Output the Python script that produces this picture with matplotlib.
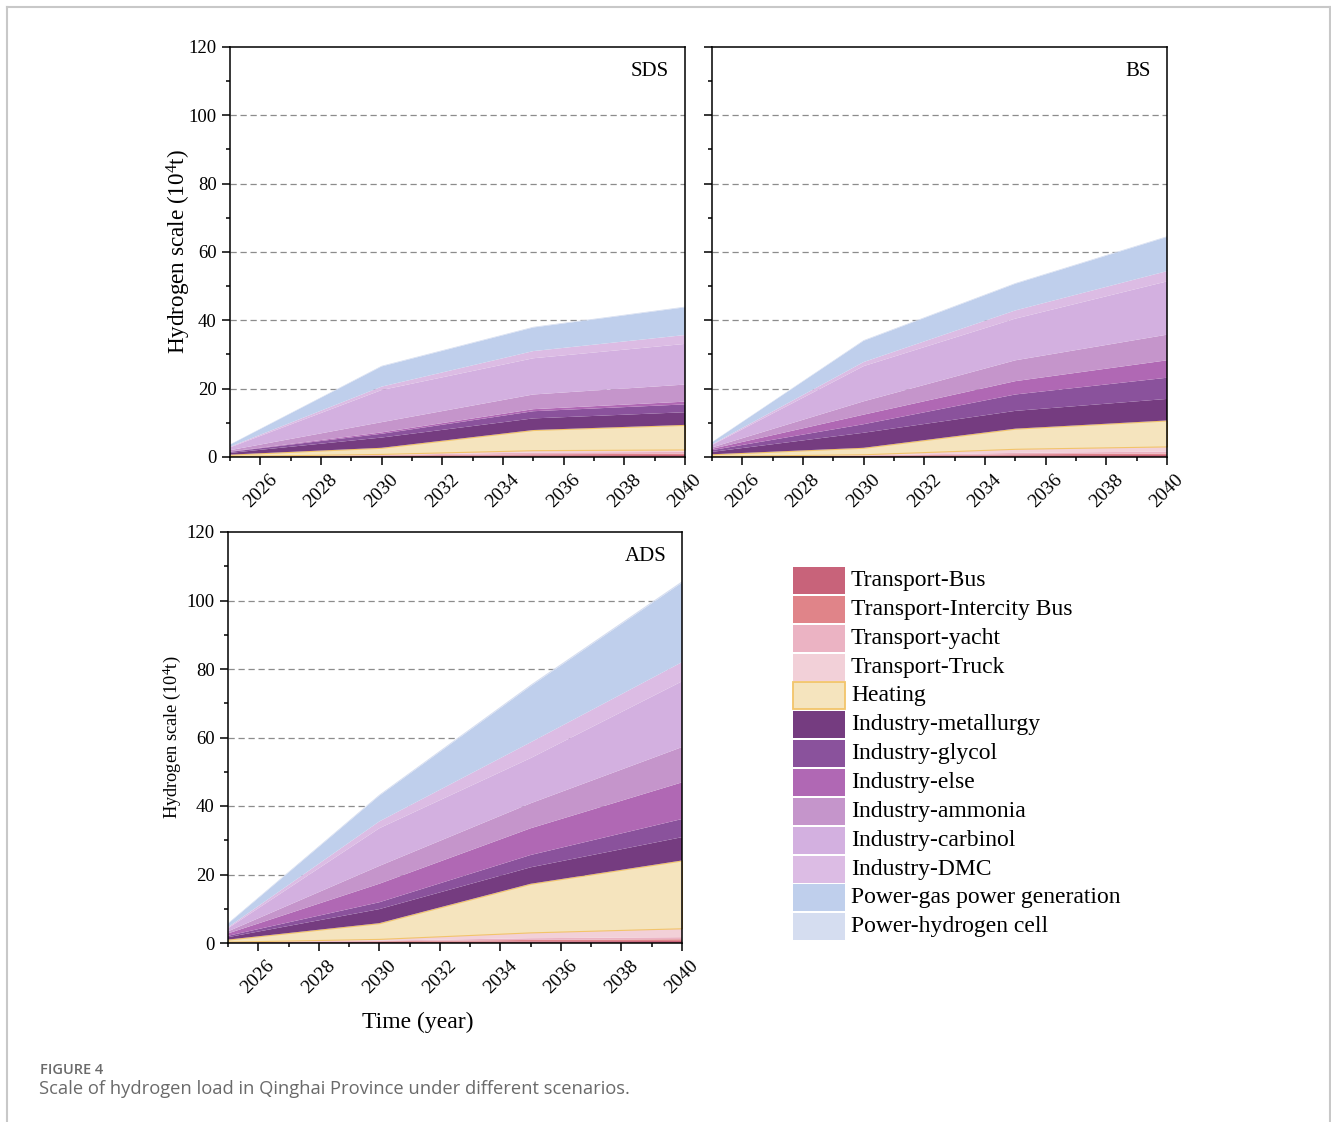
import matplotlib
matplotlib.use("Agg")
import matplotlib.pyplot as plt
from matplotlib.patches import Rectangle
from matplotlib.lines import Line2D
from matplotlib.ticker import MultipleLocator

plt.rcParams['font.family'] = ['Liberation Serif', 'DejaVu Serif']
plt.rcParams['mathtext.fontset'] = 'custom'
plt.rcParams['mathtext.rm'] = 'Liberation Serif'

# ---- data (10^4 t) ----
years = [2025, 2030, 2035, 2040]

categories = [
    "Transport-Bus", "Transport-Intercity Bus", "Transport-yacht", "Transport-Truck",
    "Heating", "Industry-metallurgy", "Industry-glycol", "Industry-else",
    "Industry-ammonia", "Industry-carbinol", "Industry-DMC",
    "Power-gas power generation", "Power-hydrogen cell",
]

colors = [
    "#C8637A", "#E08489", "#EBB3C3", "#F2D0D8",
    "#F5E4BE", "#753C80", "#8A529C", "#B068B4",
    "#C595CB", "#D3B0E0", "#DCBCE4",
    "#BFCFEC", "#D5DDF0",
]

# one row per category, in the order of `categories`
sds = [
    [0.10, 0.30, 0.50, 0.60],
    [0.05, 0.15, 0.30, 0.35],
    [0.05, 0.15, 0.50, 0.55],
    [0.10, 0.30, 0.70, 0.70],
    [0.40, 1.80, 5.90, 7.20],
    [0.50, 3.00, 3.40, 3.70],
    [0.30, 1.10, 2.10, 2.30],
    [0.10, 0.40, 0.60, 0.80],
    [0.40, 3.00, 4.30, 5.00],
    [0.80, 9.40, 10.6, 11.9],
    [0.20, 1.00, 2.10, 2.60],
    [0.60, 5.90, 6.90, 8.10],
    [0.10, 0.20, 0.20, 0.20],
]

bs = [
    [0.10, 0.30, 0.50, 0.60],
    [0.05, 0.10, 0.30, 0.40],
    [0.05, 0.10, 0.40, 0.60],
    [0.10, 0.30, 1.20, 1.50],
    [0.50, 1.90, 5.90, 7.60],
    [0.70, 4.40, 5.20, 6.30],
    [0.50, 2.50, 4.80, 6.20],
    [0.40, 2.80, 3.90, 5.10],
    [0.40, 3.90, 6.10, 7.50],
    [0.70, 10.3, 12.2, 15.6],
    [0.20, 1.20, 2.40, 3.00],
    [0.60, 6.20, 7.80, 10.0],
    [0.10, 0.20, 0.20, 0.20],
]

ads = [
    [0.10, 0.30, 0.50, 0.60],
    [0.10, 0.20, 0.40, 0.50],
    [0.10, 0.20, 0.50, 0.60],
    [0.10, 0.50, 1.70, 2.60],
    [0.60, 4.60, 14.2, 19.8],
    [0.70, 4.10, 4.80, 6.80],
    [0.40, 2.00, 3.60, 5.30],
    [0.70, 5.40, 7.80, 10.7],
    [0.60, 5.20, 7.30, 10.3],
    [0.90, 11.0, 13.2, 19.2],
    [0.30, 2.00, 4.60, 5.60],
    [1.00, 7.50, 16.4, 23.2],
    [0.20, 0.30, 0.40, 0.40],
]

scenario_names = ["SDS", "BS", "ADS"]
xticks = [2026, 2028, 2030, 2032, 2034, 2036, 2038, 2040]

W, H = 1331, 1122
fig = plt.figure(figsize=(W / 100, H / 100), dpi=100)


def axes_px(left, top, right, bottom):
    return fig.add_axes([left / W, 1 - bottom / H, (right - left) / W, (bottom - top) / H])


def draw_panel(ax, values, name, ylabel_size, ylabel_pad):
    polys = ax.stackplot(years, *values, colors=colors, linewidth=0, zorder=2)
    polys[4].set_edgecolor("#F2C46A")
    polys[4].set_linewidth(0.8)
    ax.set_xlim(2025, 2040)
    ax.set_ylim(0, 120)
    ax.set_xticks(xticks)
    ax.set_xticklabels([str(y) for y in xticks], rotation=45, ha="center", fontsize=14)
    ax.xaxis.set_minor_locator(MultipleLocator(1))
    ax.yaxis.set_major_locator(MultipleLocator(20))
    ax.yaxis.set_minor_locator(MultipleLocator(10))
    ax.tick_params(axis="both", which="major", direction="out", length=6, width=1.1,
                   labelsize=13.5, top=False, right=False)
    ax.tick_params(axis="x", which="major", labelsize=14, pad=4)
    ax.tick_params(axis="both", which="minor", direction="out", length=3, width=1.1,
                   top=False, right=False)
    for sp in ax.spines.values():
        sp.set_linewidth(1.1)
    for gy in [20, 40, 60, 80, 100]:
        ax.axhline(gy, color="#8c8c8c", lw=0.9, ls=(0, (5, 3)), zorder=1)
    ax.text(0.965, 0.94, name, transform=ax.transAxes, ha="right", va="center", fontsize=15)
    ax.set_ylabel(r"Hydrogen scale (10$\mathregular{^4}$t)", fontsize=ylabel_size,
                  labelpad=ylabel_pad)


ax1 = axes_px(230, 47, 685, 457)
draw_panel(ax1, sds, scenario_names[0], 16.7, -3)

ax2 = axes_px(712, 47, 1167, 457)
draw_panel(ax2, bs, scenario_names[1], 16.7, -3)
ax2.set_ylabel("")
ax2.set_yticklabels([])

ax3 = axes_px(228, 532, 682, 943)
draw_panel(ax3, ads, scenario_names[2], 13.2, 3)
fig.text(418 / W, 1 - 1022 / H, "Time (year)", fontsize=17, ha="center", va="center")

# legend, drawn as a column of swatches with labels
row_top0, row_step, sw_h = 567, 28.85, 27
for i, (c, lab) in enumerate(zip(colors, categories)):
    top = row_top0 + i * row_step
    if lab == "Heating":
        ec, lw = "#F2C46A", 1.3
    else:
        ec, lw = "none", 0
    fig.add_artist(Rectangle((793 / W, 1 - (top + sw_h) / H), 52 / W, sw_h / H,
                             transform=fig.transFigure, facecolor=c, edgecolor=ec, linewidth=lw))
    fig.text(851 / W, 1 - (top + sw_h / 2) / H, lab, fontsize=17, ha="left", va="center")

# page frame and caption
frame_col = "#c8c8c8"
fig.add_artist(Line2D([7 / W, 1330 / W], [1 - 7 / H, 1 - 7 / H], color=frame_col, lw=1.5))
fig.add_artist(Line2D([7 / W, 7 / W], [0, 1 - 7 / H], color=frame_col, lw=1.5))
fig.add_artist(Line2D([1330 / W, 1330 / W], [0, 1 - 7 / H], color=frame_col, lw=1.5))

fig.text(40 / W, 1 - 1070 / H, "FIGURE 4", fontsize=10.5, color="#6a6a6a",
         family=["Open Sans", "DejaVu Sans"], fontweight="semibold", va="center")
fig.text(39 / W, 1 - 1089 / H, "Scale of hydrogen load in Qinghai Province under different scenarios.",
         fontsize=13.2, color="#6a6a6a", family=["Open Sans", "DejaVu Sans"], va="center")

fig.savefig("out.png", dpi=100)
